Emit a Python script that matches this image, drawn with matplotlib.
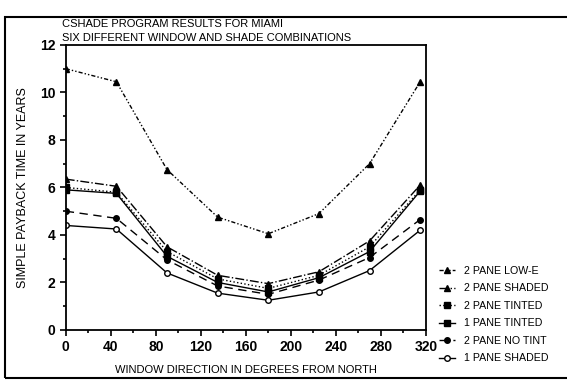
import numpy as np
import matplotlib.pyplot as plt
from matplotlib.patches import Rectangle

plt.rcParams['font.family'] = ['Liberation Sans', 'DejaVu Sans']

# Data
direction = [0, 45, 90, 135, 180, 225, 270, 315]
low_e = [11.0, 10.45, 6.75, 4.75, 4.05, 4.9, 7.0, 10.45]
two_pane_shaded = [6.35, 6.05, 3.5, 2.3, 1.95, 2.45, 3.75, 6.1]
two_pane_tinted = [6.0, 5.8, 3.3, 2.15, 1.75, 2.3, 3.5, 5.9]
one_pane_tinted = [5.9, 5.75, 3.1, 2.0, 1.6, 2.2, 3.3, 5.85]
two_pane_no_tint = [5.0, 4.7, 2.95, 1.85, 1.5, 2.1, 3.05, 4.65]
one_pane_shaded = [4.4, 4.25, 2.4, 1.55, 1.25, 1.6, 2.5, 4.2]

labels = ['2 PANE LOW-E', '2 PANE SHADED', '2 PANE TINTED',
          '1 PANE TINTED', '2 PANE NO TINT', '1 PANE SHADED']
series = [low_e, two_pane_shaded, two_pane_tinted,
          one_pane_tinted, two_pane_no_tint, one_pane_shaded]

styles = [
    dict(linestyle=(0, (3, 1.5, 1, 1.5, 1, 1.5)), marker='^', mfc='black'),
    dict(linestyle='-.', marker='^', mfc='black'),
    dict(linestyle=':', marker='s', mfc='black'),
    dict(linestyle='-', marker='s', mfc='black'),
    dict(linestyle=(0, (6, 4)), marker='o', mfc='black'),
    dict(linestyle='-', marker='o', mfc='white'),
]

fig = plt.figure(figsize=(5.67, 3.81), dpi=100)
ax = fig.add_axes([0.116, 0.134, 0.635, 0.748])

for vals, lab, st in zip(series, labels, styles):
    ax.plot(direction, vals, color='black', lw=1.0, ms=4, mec='black',
            label=lab, **st)

ax.set_xlim(0, 320)
ax.set_ylim(0, 12)
ax.set_xticks(np.arange(0, 321, 40))
ax.set_xticks(np.arange(0, 321, 20), minor=True)
ax.set_yticks(np.arange(0, 13, 2))
ax.set_yticks(np.arange(0, 13, 1), minor=True)
ax.tick_params(which='both', direction='out', labelsize=10, width=1.2)
ax.tick_params(which='major', length=4)
ax.tick_params(which='minor', length=2)
for lbl in ax.get_xticklabels() + ax.get_yticklabels():
    lbl.set_fontweight('bold')
for sp in ax.spines.values():
    sp.set_linewidth(1.3)

ax.set_xlabel('WINDOW DIRECTION IN DEGREES FROM NORTH', fontsize=8, labelpad=8)
ax.set_ylabel('SIMPLE PAYBACK TIME IN YEARS', fontsize=9, labelpad=8)

fig.text(0.11, 0.937, 'CSHADE PROGRAM RESULTS FOR MIAMI', fontsize=8, va='center')
fig.text(0.11, 0.900, 'SIX DIFFERENT WINDOW AND SHADE COMBINATIONS', fontsize=8, va='center')

leg = ax.legend(loc='upper left', bbox_to_anchor=(1.025, 0.24), frameon=False,
                fontsize=7.7, handlelength=1.5, handletextpad=0.8,
                labelspacing=0.7, borderaxespad=0)

# page frame
fig.patches.append(Rectangle((0.009, 0.008), 1.2, 0.948, transform=fig.transFigure,
                             fill=False, lw=1.5, ec='black'))

fig.savefig('out.png', dpi=100)
